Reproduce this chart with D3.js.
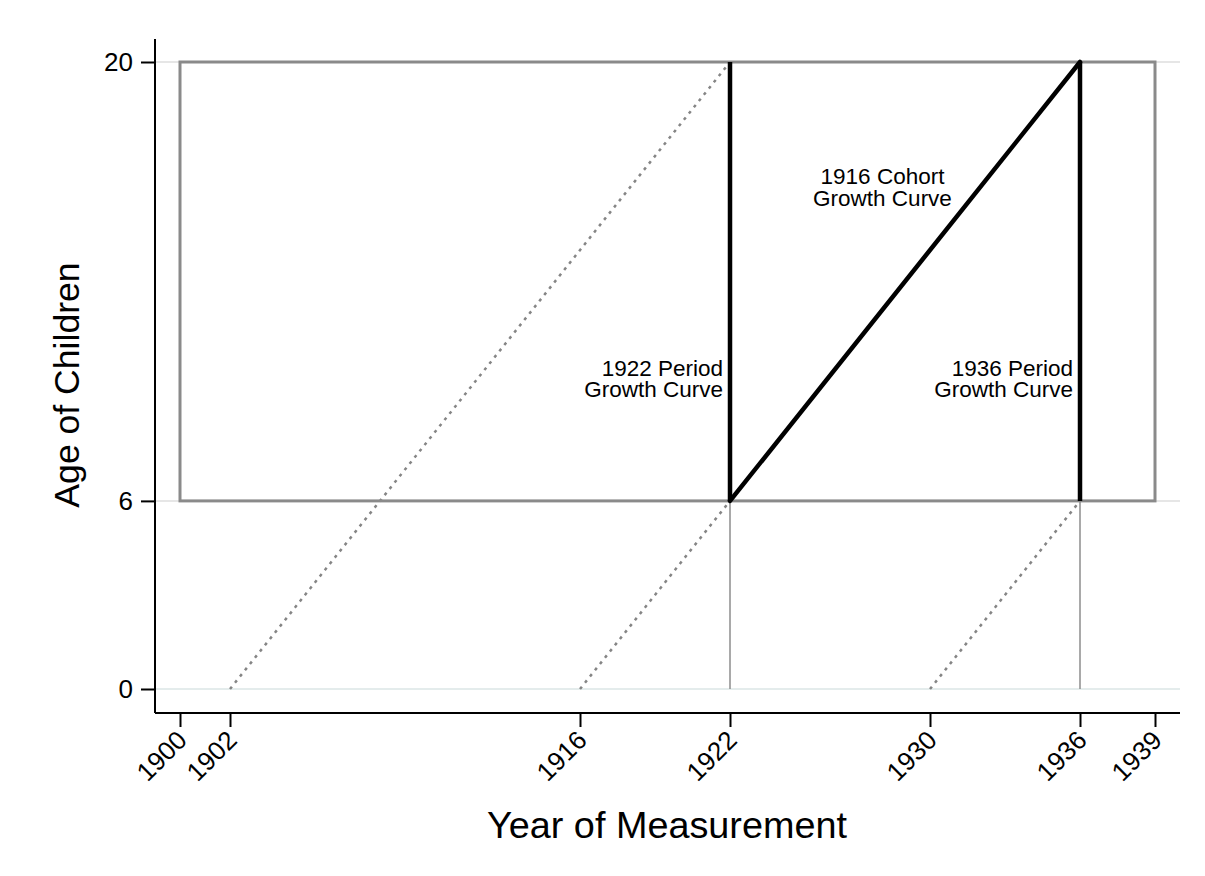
<!DOCTYPE html>
<html><head><meta charset="utf-8">
<script src="https://cdn.jsdelivr.net/npm/d3@7"></script>
<style>body{margin:0;background:#fff;} text{font-family:"Liberation Sans",Arial,Helvetica,sans-serif;}</style>
</head><body>
<svg id="chart" width="1205" height="876"></svg>
<script>
// ---- data ----
const xTicks = [1900, 1902, 1916, 1922, 1930, 1936, 1939];
const yTicks = [0, 6, 20];
const boxYears = [1900, 1939];
const boxAges = [6, 20];
const periodYears = [1922, 1936];
const periodAges = [6, 20];
const cohortCurve = [[1922, 6], [1936, 20]];
const dottedCohorts = [
  [[1902, 0], [1922, 20]],
  [[1916, 0], [1922, 6]],
  [[1930, 0], [1936, 6]]
];
const preAges = [0, 6];
const labels = [
  {lines: ["1922 Period", "Growth Curve"], year: 1922, age: 10, anchor: "end"},
  {lines: ["1936 Period", "Growth Curve"], year: 1936, age: 10, anchor: "end"},
  {lines: ["1916 Cohort", "Growth Curve"], year: 1928.1, age: 16.1, anchor: "middle"}
];
const xTitle = "Year of Measurement";
const yTitle = "Age of Children";

// ---- scales ----
const svg = d3.select("#chart");
const x = d3.scaleLinear().domain([1899, 1940]).range([155, 1180]);
const y = d3.scaleLinear().domain([0, 20]).range([689, 62]);
const yBottom = 713, yTop = 39;

// gridlines
svg.append("g").selectAll("line").data([6, 20]).join("line")
  .attr("x1", 155).attr("x2", 1180).attr("y1", d => y(d)).attr("y2", d => y(d))
  .attr("stroke", "#e6e6e6").attr("stroke-width", 2);
svg.append("line").attr("x1", 155).attr("x2", 1180).attr("y1", y(0)).attr("y2", y(0))
  .attr("stroke", "#e4ecec").attr("stroke-width", 2);

// dotted cohort lines
const line = d3.line().x(d => x(d[0])).y(d => y(d[1]));
svg.append("g").selectAll("path").data(dottedCohorts).join("path")
  .attr("d", line).attr("fill", "none").attr("stroke", "#858585")
  .attr("stroke-width", 2.5).attr("stroke-dasharray", "3,5");

// thin pre-period verticals
svg.append("g").selectAll("line").data(periodYears).join("line")
  .attr("x1", d => x(d)).attr("x2", d => x(d))
  .attr("y1", y(preAges[0])).attr("y2", y(preAges[1]))
  .attr("stroke", "#8c8c8c").attr("stroke-width", 1.5);

// box
svg.append("rect")
  .attr("x", x(boxYears[0])).attr("y", y(boxAges[1]))
  .attr("width", x(boxYears[1]) - x(boxYears[0]))
  .attr("height", y(boxAges[0]) - y(boxAges[1]))
  .attr("fill", "none").attr("stroke", "#8a8a8a").attr("stroke-width", 3);

// period curves
svg.append("g").selectAll("line").data(periodYears).join("line")
  .attr("x1", d => x(d)).attr("x2", d => x(d))
  .attr("y1", y(periodAges[0])).attr("y2", y(periodAges[1]))
  .attr("stroke", "#000").attr("stroke-width", 4.5);
// cohort curve
svg.append("path").datum(cohortCurve).attr("d", line)
  .attr("fill", "none").attr("stroke", "#000").attr("stroke-width", 4.5)
  .attr("stroke-linecap", "round").attr("stroke-linejoin", "round");

// annotations
labels.forEach(l => {
  const ax = l.anchor === "end" ? x(l.year) - 7 : x(l.year);
  const t = svg.append("text")
    .attr("x", ax).attr("y", y(l.age)).attr("text-anchor", l.anchor)
    .attr("font-size", 22.5).attr("fill", "#000");
  l.lines.forEach((s, i) => t.append("tspan")
    .attr("x", ax).attr("dy", i === 0 ? 0 : 21.3).text(s));
});

// axes
const xAxis = d3.axisBottom(x).tickValues(xTicks).tickFormat(d3.format("d"))
  .tickSize(14).tickSizeOuter(0);
const gx = svg.append("g").attr("transform", `translate(0,${yBottom})`).call(xAxis);
gx.select(".domain").attr("d", `M155,0H1180`).attr("stroke", "#000").attr("stroke-width", 2);
gx.selectAll(".tick line").attr("stroke", "#000").attr("stroke-width", 2);
gx.selectAll(".tick text").attr("font-size", 26).attr("fill", "#000")
  .attr("font-family", "Liberation Sans, Arial, sans-serif")
  .attr("text-anchor", "end").attr("dy", 0)
  .attr("transform", "translate(3,24) rotate(-45)")
  .attr("y", 0).attr("x", 0).attr("dominant-baseline", "middle");

const yAxis = d3.axisLeft(y).tickValues(yTicks).tickFormat(d3.format("d"))
  .tickSize(14).tickSizeOuter(0);
const gy = svg.append("g").attr("transform", `translate(155,0)`).call(yAxis);
gy.select(".domain").attr("d", `M0,${yTop}V${yBottom}`).attr("stroke", "#000").attr("stroke-width", 2);
gy.selectAll(".tick line").attr("stroke", "#000").attr("stroke-width", 2);
gy.selectAll(".tick text").attr("font-size", 26).attr("fill", "#000")
  .attr("font-family", "Liberation Sans, Arial, sans-serif").attr("x", -22);

// titles
svg.append("text").attr("x", 667).attr("y", 838).attr("text-anchor", "middle")
  .attr("font-size", 37.8).attr("fill", "#000").text(xTitle);
svg.append("text").attr("transform", "translate(79,385) rotate(-90)")
  .attr("text-anchor", "middle").attr("font-size", 35.6).attr("fill", "#000").text(yTitle);
</script>
</body></html>
